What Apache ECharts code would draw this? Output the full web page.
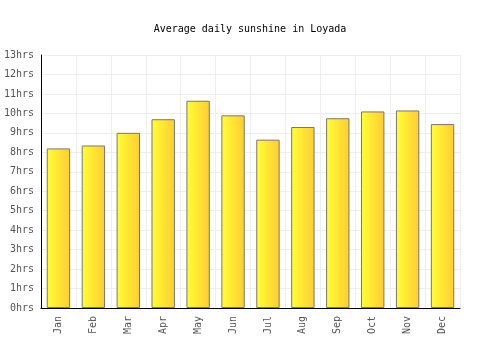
<!DOCTYPE html>
<html>
<head>
<meta charset="utf-8">
<script src="https://cdn.jsdelivr.net/npm/echarts@6/dist/echarts.min.js"></script>
<style>
  html, body { margin: 0; padding: 0; background: #fff; }
  #chart { width: 500px; height: 350px; }
</style>
</head>
<body>
<div id="chart"></div>
<script>
const months = ['Jan', 'Feb', 'Mar', 'Apr', 'May', 'Jun', 'Jul', 'Aug', 'Sep', 'Oct', 'Nov', 'Dec'];
const sunshine = [8.2, 8.35, 9.0, 9.7, 10.65, 9.9, 8.65, 9.3, 9.75, 10.1, 10.15, 9.45];

const mono = '"DejaVu Sans Mono", monospace';

let ch = echarts.init(document.getElementById('chart'));
let option = {
  animation: false,
  title: {
    text: 'Average daily sunshine in Loyada',
    left: 'center',
    top: 19,
    textStyle: {
      fontFamily: mono,
      fontSize: 10,
      fontWeight: 'normal',
      color: '#000'
    }
  },
  grid: {
    left: 41,
    right: 40,
    top: 55,
    bottom: 42
  },
  xAxis: {
    type: 'category',
    data: months,
    axisLine: { show: true, lineStyle: { color: '#000', width: 1 } },
    axisTick: { show: false },
    splitLine: { show: true, interval: 0, lineStyle: { color: '#eee' } },
    axisLabel: {
      rotate: 90,
      interval: 0,
      margin: 8,
      fontFamily: mono,
      fontSize: 10,
      color: '#555'
    }
  },
  yAxis: {
    type: 'value',
    min: 0,
    max: 13,
    interval: 1,
    axisLine: { show: true, lineStyle: { color: '#000', width: 1 } },
    axisTick: { show: false },
    splitLine: { show: true, lineStyle: { color: '#eee' } },
    axisLabel: {
      formatter: '{value}hrs',
      margin: 7,
      fontFamily: mono,
      fontSize: 10,
      color: '#555'
    }
  },
  series: [
    {
      name: 'Sunshine',
      type: 'bar',
      data: sunshine,
      barWidth: '67%',
      itemStyle: {
        borderColor: '#777',
        borderWidth: 1,
        color: {
          type: 'linear',
          x: 0, y: 0, x2: 1, y2: 0,
          colorStops: [
            { offset: 0, color: '#ffff33' },
            { offset: 1, color: '#ffcc33' }
          ]
        }
      }
    }
  ]
};
ch.setOption(option);
</script>
</body>
</html>
